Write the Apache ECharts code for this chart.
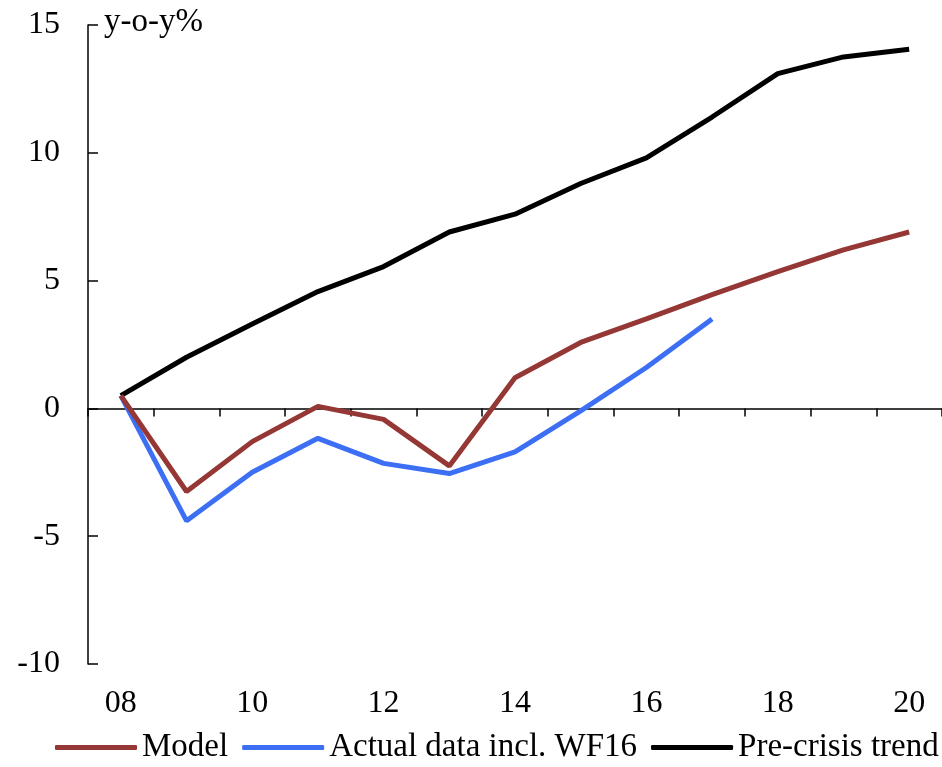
<!DOCTYPE html>
<html><head><meta charset="utf-8">
<script src="https://cdn.jsdelivr.net/npm/echarts@6/dist/echarts.min.js"></script>
<style>html,body{margin:0;padding:0;background:#fff}#c{width:942px;height:767px}</style>
</head><body><div id="c"></div>
<script>
const categories = ['08','09','10','11','12','13','14','15','16','17','18','19','20'];
const model = [0.5,-3.25,-1.3,0.08,-0.43,-2.25,1.2,2.58,3.5,4.45,5.35,6.2,6.9];
const actual = [0.5,-4.4,-2.5,-1.17,-2.15,-2.55,-1.7,-0.1,1.6,3.5,null,null,null];
const trend = [0.5,2.0,3.3,4.57,5.55,6.9,7.6,8.8,9.8,11.4,13.1,13.75,14.05];

const font = 'Liberation Serif';
const fs = 32;
const chart = echarts.init(document.getElementById('c'));
chart.setOption({
  animation:false,
  title:{text:'y-o-y%',left:104,top:6,padding:0,textStyle:{fontFamily:font,fontSize:33,fontWeight:'normal',color:'#000'}},
  grid:{left:88,right:-6,top:25,bottom:103},
  legend:{top:731,left:55,itemGap:14,itemWidth:82,itemHeight:5,icon:'roundRect',padding:0,
    textStyle:{fontFamily:font,fontSize:33,color:'#000'},
    data:['Model','Actual data incl. WF16','Pre-crisis trend']},
  xAxis:[
    {type:'category',data:categories,boundaryGap:true,position:'bottom',
     axisLine:{show:false,onZero:false},axisTick:{show:false},
     axisLabel:{interval:1,margin:24,fontFamily:font,fontSize:fs,color:'#000'}},
    {type:'category',data:categories,boundaryGap:true,position:'top',
     axisLine:{show:true,onZero:true,lineStyle:{color:'#000',width:1.5}},
     axisTick:{show:true,inside:true,length:8,lineStyle:{color:'#000',width:1.5}},
     axisLabel:{show:false}}
  ],
  yAxis:{type:'value',min:-10,max:15,interval:5,
    axisLine:{show:true,onZero:false,lineStyle:{color:'#000',width:1.5}},
    axisTick:{show:true,inside:true,length:10,lineStyle:{color:'#000',width:1.5}},
    splitLine:{show:false},
    axisLabel:{margin:28,fontFamily:font,fontSize:fs,color:'#000',
      formatter:v=>String(v)}},
  series:[
    {name:'Pre-crisis trend',type:'line',data:trend,symbol:'none',z:3,lineStyle:{color:'#000',width:5},itemStyle:{color:'#000'}},
    {name:'Model',type:'line',data:model,symbol:'none',z:4,lineStyle:{color:'#953735',width:5},itemStyle:{color:'#953735'}},
    {name:'Actual data incl. WF16',type:'line',data:actual,symbol:'none',z:2,lineStyle:{color:'#3d6ff5',width:5},itemStyle:{color:'#3d6ff5'}}
  ]
});
</script></body></html>
